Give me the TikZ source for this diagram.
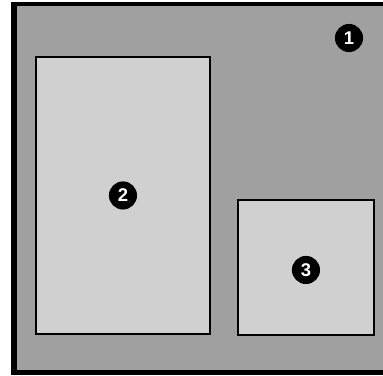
\documentclass[tikz,border=0pt]{standalone}
\usepackage{fontspec}
\setsansfont{Liberation Sans}
\usetikzlibrary{positioning}
\definecolor{frameblack}{RGB}{0,0,0}
\definecolor{basegray}{RGB}{160,160,160}
\definecolor{panelgray}{RGB}{208,208,208}
\tikzset{
    panel/.style={
        draw=frameblack,line width=1.1pt,fill=panelgray,
        inner sep=0pt,anchor=north west
    },
    badge/.style={
        circle,fill=frameblack,text=white,inner sep=0pt,
        minimum size=16pt,font=\sffamily\bfseries\fontsize{10.5}{10.5}\selectfont
    }
}
\begin{document}
\begin{tikzpicture}[x=0.02cm,y=-0.02cm]
\clip (0,0) rectangle (383,376);
\fill[white] (0,0) rectangle (383,376);

% outer frame
\fill[frameblack] (11,2) rectangle (395,375);
\fill[basegray] (17,6) rectangle (395,370);

\node[panel,minimum width=174*0.02cm,minimum height=277*0.02cm]
(left) at (35,56) {};
\node[panel,minimum width=136*0.02cm,minimum height=135*0.02cm]
(right) at (237,199) {};

\node[badge] (b1) at (349,38) {1};
\node[badge] (b2) at (left.center) {2};
\node[badge] (b3) at ([yshift=-2.5*0.02cm]right.center) {3};

\end{tikzpicture}
\end{document}
